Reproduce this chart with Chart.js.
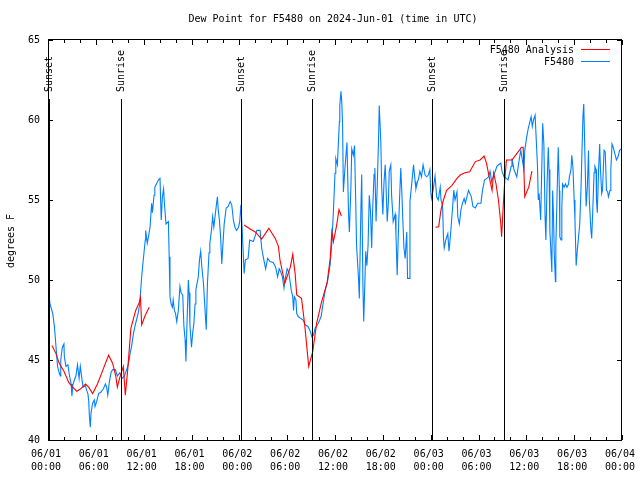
<!DOCTYPE html>
<html>
<head>
<meta charset="utf-8">
<title>Dew Point for F5480</title>
<script src="https://cdn.jsdelivr.net/npm/chart.js@4/dist/chart.umd.min.js"></script>
<style>
  html, body { margin: 0; padding: 0; background: #fff; }
  #wrap { width: 640px; height: 480px; }
</style>
</head>
<body>
<div id="wrap"><canvas id="dew-chart" width="640" height="480"></canvas></div>
<script>
const TITLE = 'Dew Point for F5480 on 2024-Jun-01 (time in UTC)';
const Y_LABEL = 'degrees F';
const FONT = '10px "DejaVu Sans Mono", "Liberation Mono", monospace';
const ANALYSIS_COLOR = '#ff0000';
const OBS_COLOR = '#0080ff';

const yTicks = [40, 45, 50, 55, 60, 65];
const xTickHours = [0, 6, 12, 18, 24, 30, 36, 42, 48, 54, 60, 66, 72];
const xTickDates = ['06/01', '06/01', '06/01', '06/01', '06/02', '06/02', '06/02', '06/02', '06/03', '06/03', '06/03', '06/03', '06/04'];
const xTickTimes = ['00:00', '06:00', '12:00', '18:00', '00:00', '06:00', '12:00', '18:00', '00:00', '06:00', '12:00', '18:00', '00:00'];

// hours after 06/01 00:00 UTC
const sunsetHours = [0.13, 24.15, 48.15];
const sunriseHours = [9.2, 33.15, 57.25];

// F5480 Analysis: [hour, dew point F]
const analysisDay1 = [
  [0.5, 45.9], [1.0, 45.4], [1.4, 44.8], [2.0, 44.3], [2.6, 43.6], [3.1, 43.3], [3.6, 43.05],
  [4.1, 43.2], [4.7, 43.5], [5.1, 43.3], [5.6, 42.9], [6.2, 43.5], [6.9, 44.4], [7.6, 45.3],
  [8.1, 44.8], [8.5, 44.0], [8.7, 43.3], [9.0, 43.9], [9.45, 44.6], [9.7, 42.8], [10.0, 44.4],
  [10.4, 47.0], [11.0, 48.1], [11.45, 48.6], [11.6, 48.9], [11.75, 47.2], [12.2, 47.8], [12.7, 48.3],
];
const analysisDay2 = [
  [24.6, 53.44], [25.3, 53.2], [26.0, 53.0], [26.8, 52.56], [27.7, 53.23], [28.5, 52.6], [28.9, 52.1],
  [29.1, 51.25], [29.7, 49.8], [30.4, 50.8], [30.7, 51.6], [31.0, 50.4], [31.2, 49.06], [31.8, 48.85],
  [32.2, 47.2], [32.7, 44.6], [33.2, 45.5], [33.7, 47.3], [34.3, 48.6], [35.0, 49.8], [35.4, 51.35],
  [35.6, 53.0], [35.8, 52.4], [36.2, 53.4], [36.5, 54.4], [36.8, 54.0],
];
const analysisDay3 = [
  [48.6, 53.3], [49.0, 53.33], [49.3, 54.4], [49.6, 55.0], [50.0, 55.6], [50.65, 55.9], [51.3, 56.35],
  [51.7, 56.56], [52.3, 56.7], [52.9, 56.77], [53.6, 57.4], [54.2, 57.5], [54.7, 57.75], [55.0, 57.3],
  [55.4, 56.3], [55.7, 55.6], [55.9, 56.7], [56.2, 56.0], [56.5, 55.0], [56.8, 53.5], [56.9, 52.7],
  [57.1, 54.6], [57.3, 56.25], [57.5, 57.5], [58.2, 57.5], [58.8, 57.9], [59.4, 58.3], [59.6, 58.3],
  [59.8, 55.2], [60.3, 55.8], [60.7, 56.8],
];

// F5480 observations: [hour, dew point F]
const obsDay1 = [
  [0.1, 49.2], [0.25, 48.5], [0.6, 47.9], [0.8, 47.1], [0.9, 46.5], [1.1, 45.2], [1.2, 44.6], [1.4, 44.2],
  [1.55, 44.0], [1.6, 45.0], [1.8, 45.8], [2.0, 46.0], [2.05, 45.2], [2.25, 44.6], [2.5, 44.7], [2.7, 44.0],
  [2.9, 43.5], [3.0, 42.75], [3.1, 43.4], [3.3, 43.75], [3.5, 44.0], [3.7, 44.7], [3.9, 43.85], [4.05, 44.6],
  [4.3, 43.65], [4.4, 43.3], [4.7, 43.4], [4.85, 43.1], [5.0, 42.9], [5.1, 42.5], [5.2, 41.45], [5.3, 40.8],
  [5.4, 41.7], [5.6, 42.3], [5.8, 42.5], [5.9, 42.1], [6.1, 42.4], [6.35, 42.9], [6.65, 43.0], [6.95, 43.2],
  [7.2, 43.5], [7.35, 43.3], [7.5, 42.8], [7.7, 43.65], [7.9, 44.2], [8.1, 44.4], [8.45, 44.4], [8.7, 44.0],
  [9.0, 44.2], [9.3, 43.85], [9.6, 44.0], [9.8, 44.3], [10.0, 44.6], [10.1, 44.8], [10.3, 45.4], [10.5, 45.9],
  [10.7, 46.6], [10.9, 47.1], [11.1, 47.5], [11.3, 47.9], [11.5, 48.5], [11.75, 50.2], [11.95, 51.25],
  [12.2, 52.5], [12.25, 53.1], [12.45, 52.3], [12.6, 52.7], [12.8, 53.3], [13.0, 54.8], [13.1, 54.2],
  [13.3, 55.3], [13.4, 55.8], [13.6, 56.0], [13.85, 56.25], [14.05, 56.35], [14.2, 53.75], [14.35, 55.2],
  [14.5, 55.7], [14.6, 54.8], [14.8, 53.5], [15.1, 53.65], [15.2, 51.45], [15.3, 48.95], [15.45, 48.5],
  [15.6, 48.3], [15.7, 48.75], [15.85, 48.1], [16.0, 47.9], [16.15, 47.4], [16.35, 48.1], [16.55, 49.6],
  [16.7, 49.2], [16.9, 49.06], [17.05, 47.1], [17.2, 46.25], [17.3, 44.9], [17.4, 46.7], [17.5, 48.3],
  [17.6, 50.0], [17.7, 49.2], [17.8, 47.2], [18.0, 45.8], [18.15, 46.7], [18.3, 47.3], [18.45, 48.5],
  [18.55, 49.4], [18.7, 49.8], [18.85, 50.2], [19.0, 51.25], [19.15, 51.8], [19.3, 50.8], [19.5, 49.8],
  [19.7, 48.1], [19.85, 46.9], [20.0, 49.8], [20.2, 51.7], [20.3, 52.3], [20.5, 53.1], [20.65, 53.95],
  [20.8, 53.3], [20.95, 53.95], [21.1, 54.6], [21.25, 55.2], [21.35, 54.4], [21.5, 53.75], [21.65, 52.7],
  [21.8, 51.0], [21.9, 51.9], [22.1, 53.5], [22.35, 54.5], [22.6, 54.6], [22.85, 54.9], [23.05, 54.7],
  [23.25, 53.75], [23.45, 53.3], [23.65, 53.1], [23.9, 53.3], [24.05, 53.65], [24.2, 54.7],
];
const obsDay2 = [
  [24.4, 52.7], [24.6, 50.4], [24.75, 51.25], [25.1, 51.35], [25.3, 52.5], [25.75, 52.4], [25.95, 52.7],
  [26.2, 53.1], [26.6, 53.1], [26.8, 52.0], [27.0, 51.45], [27.3, 50.7], [27.55, 51.35], [27.85, 51.15],
  [28.25, 51.1], [28.55, 50.8], [28.8, 50.2], [29.0, 50.7], [29.2, 50.5], [29.4, 50.2], [29.6, 49.5],
  [29.8, 50.2], [30.0, 50.7], [30.2, 50.5], [30.5, 49.4], [30.7, 48.95], [30.8, 48.1], [30.9, 48.95],
  [31.1, 48.75], [31.2, 47.9], [31.4, 47.7], [31.7, 47.6], [32.0, 47.5], [32.25, 47.2], [32.6, 47.1],
  [32.9, 46.8], [33.1, 46.45], [33.3, 46.56], [33.5, 46.98], [33.9, 47.3], [34.25, 47.7], [34.5, 48.5],
  [34.75, 49.3], [35.1, 50.0], [35.4, 51.0], [35.6, 52.3], [35.8, 54.3], [36.0, 56.67], [36.1, 57.6],
  [36.3, 57.2], [36.55, 59.9], [36.6, 60.9], [36.75, 61.8], [36.85, 61.1], [36.95, 59.7], [37.05, 55.5],
  [37.25, 57.0], [37.5, 58.6], [37.7, 54.1], [37.8, 53.0], [38.0, 55.9], [38.1, 58.2], [38.3, 57.8],
  [38.45, 58.4], [38.6, 54.9], [38.7, 52.2], [38.95, 50.1], [39.05, 48.85], [39.25, 54.5], [39.35, 56.6],
  [39.5, 49.7], [39.6, 47.4], [39.75, 49.9], [39.85, 51.8], [40.0, 50.9], [40.15, 52.2], [40.3, 55.3],
  [40.45, 54.3], [40.6, 52.0], [40.7, 54.1], [40.9, 56.6], [41.0, 57.0], [41.15, 53.65], [41.3, 55.9],
  [41.45, 58.6], [41.55, 60.9], [41.75, 58.6], [41.85, 55.9], [42.0, 54.1], [42.15, 56.15], [42.3, 57.2],
  [42.4, 55.9], [42.55, 53.65], [42.7, 54.9], [42.8, 56.8], [43.0, 57.2], [43.1, 55.3], [43.3, 53.65],
  [43.55, 54.1], [43.65, 52.8], [43.8, 50.3], [43.95, 53.0], [44.1, 55.1], [44.25, 57.0], [44.4, 55.3],
  [44.5, 53.85], [44.65, 52.0], [44.8, 51.35], [45.0, 53.0], [45.1, 50.1], [45.3, 50.1], [45.4, 54.9],
  [45.65, 56.15], [45.85, 57.2], [46.05, 56.15], [46.15, 55.7], [46.35, 56.15], [46.45, 56.25], [46.65, 56.8],
  [46.85, 56.45], [47.05, 57.2], [47.3, 56.56], [47.5, 56.45], [47.7, 56.56], [47.9, 56.9],
];
const obsDay3 = [
  [48.0, 55.6], [48.1, 55.1], [48.3, 55.6], [48.55, 56.5], [48.75, 55.2], [48.95, 55.0], [49.2, 55.8],
  [49.3, 55.0], [49.5, 54.6], [49.6, 52.7], [49.7, 52.0], [49.9, 52.5], [50.15, 52.9], [50.3, 51.8],
  [50.5, 52.9], [50.7, 54.2], [50.9, 55.6], [51.05, 55.0], [51.3, 55.5], [51.4, 53.95], [51.6, 53.5],
  [51.8, 54.4], [52.0, 54.8], [52.2, 55.1], [52.35, 54.8], [52.55, 55.2], [52.75, 55.6], [53.1, 55.2],
  [53.3, 54.6], [53.6, 54.5], [53.9, 54.8], [54.3, 54.8], [54.5, 55.6], [54.75, 56.25], [55.05, 56.35],
  [55.25, 56.45], [55.45, 56.8], [55.65, 56.15], [55.85, 56.45], [56.1, 56.8], [56.3, 57.1], [56.5, 57.2],
  [56.8, 57.3], [56.95, 56.8], [57.2, 56.45], [57.5, 56.35], [57.7, 56.25], [58.1, 57.1], [58.2, 57.6],
  [58.45, 56.9], [58.8, 56.45], [59.1, 57.5], [59.3, 58.1], [59.5, 57.5], [59.7, 56.9], [59.8, 58.1],
  [60.05, 58.95], [60.25, 59.5], [60.45, 59.9], [60.6, 60.2], [60.75, 59.6], [60.9, 60.0], [61.1, 60.3],
  [61.2, 60.3], [61.4, 57.1], [61.5, 55.0], [61.6, 55.4], [61.8, 53.75], [61.95, 57.3], [62.05, 59.8],
  [62.2, 58.5], [62.35, 53.95], [62.45, 52.5], [62.6, 56.0], [62.75, 58.3], [62.85, 56.9], [62.95, 53.1],
  [63.1, 51.6], [63.2, 50.5], [63.3, 55.6], [63.4, 54.2], [63.5, 51.7], [63.65, 49.9], [63.7, 52.1],
  [63.9, 56.25], [64.0, 58.3], [64.15, 55.6], [64.2, 52.7], [64.35, 52.5], [64.45, 54.5], [64.55, 56.0],
  [64.75, 55.8], [64.9, 56.0], [65.1, 55.8], [65.3, 56.0], [65.4, 56.45], [65.6, 56.9], [65.7, 57.8],
  [65.85, 57.0], [66.0, 55.0], [66.1, 53.75], [66.25, 50.9], [66.4, 51.9], [66.55, 52.7], [66.7, 53.5],
  [66.85, 55.6], [66.95, 57.5], [67.1, 60.2], [67.2, 61.0], [67.25, 60.0], [67.4, 56.7], [67.5, 54.6],
  [67.65, 55.8], [67.8, 58.1], [67.9, 55.0], [68.1, 53.1], [68.2, 52.6], [68.35, 54.6], [68.5, 56.7],
  [68.6, 57.1], [68.75, 56.9], [68.8, 55.0], [68.9, 54.2], [69.05, 56.7], [69.2, 58.5], [69.3, 56.9],
  [69.45, 55.4], [69.55, 55.6], [69.75, 58.1], [69.9, 58.0], [70.05, 55.6], [70.2, 55.5], [70.3, 55.2],
  [70.5, 55.6], [70.6, 56.9], [70.75, 58.5], [70.9, 58.3], [71.1, 57.9], [71.3, 57.5], [71.5, 57.7],
  [71.7, 58.1], [71.9, 58.2],
];

function toPoints(rows) {
  return rows.map(([h, v]) => ({ x: h, y: v }));
}

function withGaps(...segments) {
  const out = [];
  segments.forEach((seg, i) => {
    if (i > 0) out.push({ x: seg[0][0] - 0.01, y: null });
    out.push(...toPoints(seg));
  });
  return out;
}

const keyEntries = [
  { label: 'F5480 Analysis', color: ANALYSIS_COLOR },
  { label: 'F5480', color: OBS_COLOR },
];

const frame = {
  id: 'gnuplotFrame',
  afterDatasetsDraw(chart) {
    const { ctx, chartArea: a, scales: { x, y } } = chart;
    const px = (v) => Math.round(x.getPixelForValue(v)) + 0.5;
    const py = (v) => Math.round(y.getPixelForValue(v)) + 0.5;
    ctx.save();
    ctx.strokeStyle = '#000';
    ctx.fillStyle = '#000';
    ctx.lineWidth = 1;
    ctx.font = FONT;

    // sunrise / sunset markers
    const marks = sunsetHours.map((h) => [h, 'Sunset']).concat(sunriseHours.map((h) => [h, 'Sunrise']));
    marks.forEach(([h, label]) => {
      const lx = px(h);
      ctx.beginPath();
      ctx.moveTo(lx, 99);
      ctx.lineTo(lx, a.bottom);
      ctx.stroke();
      ctx.save();
      ctx.translate(lx, 92);
      ctx.rotate(-Math.PI / 2);
      ctx.textAlign = 'left';
      ctx.textBaseline = 'middle';
      ctx.fillText(label, 0, 0);
      ctx.restore();
    });

    // border
    ctx.strokeRect(a.left + 0.5, a.top - 0.5, a.right - a.left - 1, a.bottom - a.top + 1);

    // x ticks (major every 6 h, minor every 2 h), mirrored on top; y ticks both sides
    ctx.beginPath();
    for (let h = 0; h <= 72; h += 2) {
      const len = h % 6 === 0 ? 5 : 3;
      const tx = px(h);
      ctx.moveTo(tx, a.bottom);
      ctx.lineTo(tx, a.bottom - len);
      ctx.moveTo(tx, a.top);
      ctx.lineTo(tx, a.top + len);
    }
    yTicks.forEach((v) => {
      const ty = py(v);
      ctx.moveTo(a.left, ty);
      ctx.lineTo(a.left + 5, ty);
      ctx.moveTo(a.right, ty);
      ctx.lineTo(a.right - 5, ty);
    });
    ctx.stroke();

    // tick labels
    ctx.textBaseline = 'middle';
    ctx.textAlign = 'right';
    yTicks.forEach((v) => ctx.fillText(String(v), 40, y.getPixelForValue(v)));
    ctx.textAlign = 'center';
    xTickHours.forEach((h, i) => {
      const tx = x.getPixelForValue(h) - 2;
      ctx.fillText(xTickDates[i], tx, 454);
      ctx.fillText(xTickTimes[i], tx, 467);
    });

    // title and axis label
    ctx.fillText(TITLE, 333, 19);
    ctx.save();
    ctx.translate(11, 241);
    ctx.rotate(-Math.PI / 2);
    ctx.fillText(Y_LABEL, 0, 0);
    ctx.restore();

    // key
    ctx.textAlign = 'right';
    keyEntries.forEach((entry, i) => {
      const ky = 50 + i * 12;
      ctx.fillStyle = '#000';
      ctx.fillText(entry.label, 574, ky);
      ctx.fillStyle = entry.color;
      ctx.fillRect(581, ky - 1, 29, 1);
    });
    ctx.restore();
  },
};

new Chart(document.getElementById('dew-chart'), {
  type: 'line',
  data: {
    datasets: [
      {
        label: 'F5480 Analysis',
        data: withGaps(analysisDay1, analysisDay2, analysisDay3),
        borderColor: ANALYSIS_COLOR,
        borderWidth: 1.1,
        pointRadius: 0,
        spanGaps: false,
        tension: 0,
      },
      {
        label: 'F5480',
        data: toPoints(obsDay1.concat(obsDay2, obsDay3)),
        borderColor: OBS_COLOR,
        borderWidth: 1.1,
        pointRadius: 0,
        tension: 0,
      },
    ],
  },
  options: {
    responsive: false,
    animation: false,
    devicePixelRatio: 1,
    layout: { padding: { left: 48, top: 40, right: 18, bottom: 40 } },
    plugins: {
      legend: { display: false },
      title: { display: false },
      tooltip: { enabled: false },
    },
    scales: {
      x: { type: 'linear', min: 0, max: 72, display: false },
      y: { type: 'linear', min: 40, max: 65, display: false },
    },
  },
  plugins: [frame],
});
</script>
</body>
</html>
